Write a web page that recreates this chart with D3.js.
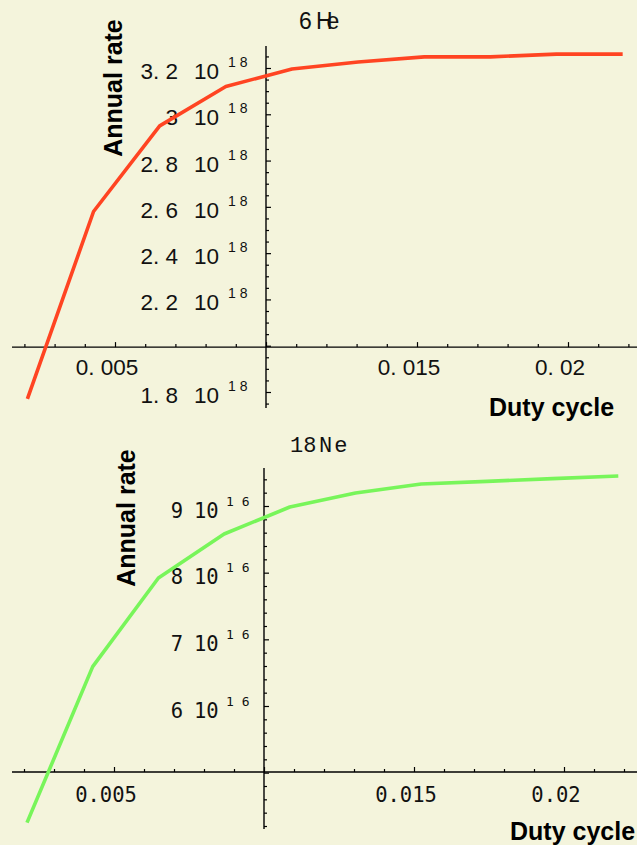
<!DOCTYPE html>
<html>
<head>
<meta charset="utf-8">
<script src="https://cdn.jsdelivr.net/npm/d3@7"></script>
<style>
  html, body { margin: 0; padding: 0; background: #f4f4dc; }
  svg { display: block; }
</style>
</head>
<body>
<script>
// Duty cycle sampled for both isotopes
const dutyCycle = [0.0021, 0.00429, 0.00648, 0.00867, 0.01086, 0.01305, 0.01524, 0.01743, 0.01962, 0.02181];
// Annual rate of 6He, in units of 10^18
const he6Rate = [1.77, 2.58, 2.95, 3.12, 3.196, 3.226, 3.248, 3.248, 3.26, 3.26];
// Annual rate of 18Ne, in units of 10^16
const ne18Rate = [4.25, 6.59, 7.92, 8.58, 8.985, 9.195, 9.33, 9.37, 9.41, 9.45];

// Tick values and labels
const xMajorTicks = [0.005, 0.01, 0.015, 0.02];
const xLabelTicks = [0.005, 0.015, 0.02];
const xLabelsTop = ["0. 005", "0. 015", "0. 02"];
const xLabelsBottom = ["0.005", "0.015", "0.02"];
const he6TickValues = [1.8, 2.2, 2.4, 2.6, 2.8, 3.0, 3.2];
const he6TickMantissa = ["1. 8", "2. 2", "2. 4", "2. 6", "2. 8", "3", "3. 2"];
const ne18TickValues = [6, 7, 8, 9];
const ne18TickMantissa = ["6", "7", "8", "9"];

const W = 637, H = 845;
const svg = d3.select("body").append("svg").attr("width", W).attr("height", H);
svg.append("rect").attr("width", W).attr("height", H).attr("fill", "#f4f4dc");

function range(a, b, step) {
  const out = [];
  const n = Math.round((b - a) / step);
  for (let i = 0; i <= n; i++) out.push(+(a + i * step).toFixed(6));
  return out;
}

function panel(opt) {
  const g = svg.append("g");
  const x = d3.scaleLinear().domain([0.005, 0.02]).range(opt.xRange);
  const y = d3.scaleLinear().domain(opt.yDomain).range(opt.yRange);
  const ax = x(0.01);            // vertical axis position
  const ay = y(opt.yCross);      // horizontal axis position

  // axis lines
  g.append("line").attr("x1", 12).attr("x2", W).attr("y1", ay).attr("y2", ay)
    .attr("stroke", "#000").attr("stroke-width", 1.4);
  g.append("line").attr("x1", ax).attr("x2", ax)
    .attr("y1", y(opt.yAxisExtent[1])).attr("y2", y(opt.yAxisExtent[0]))
    .attr("stroke", "#000").attr("stroke-width", 1.4);

  // x ticks: minor and major, pointing up
  const xMinor = range(0.002, 0.022, 0.001).filter(v => !xMajorTicks.some(m => Math.abs(m - v) < 1e-9));
  g.append("g").attr("transform", `translate(0,${ay})`)
    .call(d3.axisTop(x).tickValues(xMinor).tickSize(3).tickFormat(""))
    .call(s => s.select(".domain").remove());
  g.append("g").attr("transform", `translate(0,${ay})`)
    .call(d3.axisTop(x).tickValues(xMajorTicks).tickSize(5).tickFormat(""))
    .call(s => s.select(".domain").remove());

  // y ticks: pointing right
  const yMinor = range(opt.yMinor[0], opt.yMinor[1], opt.yMinor[2])
    .filter(v => !opt.yMajor.some(m => Math.abs(m - v) < 1e-9));
  g.append("g").attr("transform", `translate(${ax},0)`)
    .call(d3.axisRight(y).tickValues(yMinor).tickSize(3).tickFormat(""))
    .call(s => s.select(".domain").remove());
  g.append("g").attr("transform", `translate(${ax},0)`)
    .call(d3.axisRight(y).tickValues(opt.yMajor).tickSize(5).tickFormat(""))
    .call(s => s.select(".domain").remove());
  g.selectAll(".tick line").attr("stroke", "#000").attr("stroke-width", 1.2);

  // x tick labels
  g.selectAll("text.xl").data(xLabelTicks).enter().append("text")
    .attr("x", d => x(d) - 8).attr("y", ay + opt.xLabelDy)
    .attr("text-anchor", "middle")
    .attr("font-family", opt.tickFont).attr("font-size", opt.tickSize)
    .attr("fill", "#111")
    .text((d, i) => opt.xLabels[i]);

  // y tick labels: mantissa, "10" and exponent
  const yl = g.selectAll("g.yl").data(opt.yLabelValues).enter().append("g")
    .attr("transform", d => `translate(${ax},${y(d) + opt.yLabelDy})`)
    .attr("font-family", opt.tickFont).attr("fill", "#111");
  yl.append("text").attr("x", opt.mantEnd).attr("text-anchor", "end")
    .attr("font-size", opt.tickSize).text((d, i) => opt.yMantissa[i]);
  yl.append("text").attr("x", opt.tenStart)
    .attr("font-size", opt.tickSize).text("10");
  yl.append("text").attr("x", opt.expStart).attr("y", -12)
    .attr("font-size", opt.expSize).style("white-space", "pre")
    .text(opt.exponent);

  // curve
  const line = d3.line().x((d, i) => x(dutyCycle[i])).y(d => y(d));
  g.append("path").datum(opt.values).attr("d", line)
    .attr("fill", "none").attr("stroke", opt.color).attr("stroke-width", 3.6)
    .attr("stroke-linejoin", "round");

  // title
  opt.title(g);

  // axis labels
  g.append("text").attr("transform", `translate(${opt.yTitleX},${opt.yTitleY}) rotate(-90)`)
    .attr("text-anchor", "middle").attr("font-family", "Liberation Sans, Arial, sans-serif")
    .attr("font-weight", "bold").attr("font-size", 25).attr("fill", "#000")
    .text("Annual rate");
  g.append("text").attr("x", opt.xTitleX).attr("y", opt.xTitleY)
    .attr("font-family", "Liberation Sans, Arial, sans-serif")
    .attr("font-weight", "bold").attr("font-size", 25).attr("fill", "#000")
    .text("Duty cycle");
}

// 6He panel
panel({
  xRange: [115, 568],
  yDomain: [1.8, 3.2], yRange: [392, 68], yCross: 1.994,
  yAxisExtent: [1.731, 3.295],
  yMajor: [1.8, 2.0, 2.2, 2.4, 2.6, 2.8, 3.0, 3.2],
  yMinor: [1.75, 3.25, 0.05],
  yLabelValues: he6TickValues, yMantissa: he6TickMantissa, exponent: "1 8",
  tickFont: "Liberation Sans, Arial, sans-serif", tickSize: 22.5, expSize: 14,
  xLabels: xLabelsTop, xLabelDy: 28, yLabelDy: 11,
  mantEnd: -88, tenStart: -72, expStart: -38,
  values: he6Rate, color: "#ff4422",
  yTitleX: 122, yTitleY: 88, xTitleX: 489, xTitleY: 416,
  title: g => {
    const t = g.append("text").attr("y", 29).attr("font-family", "Liberation Sans, Arial, sans-serif")
      .attr("font-size", 23).attr("fill", "#111");
    t.append("tspan").attr("x", 299).text("6");
    t.append("tspan").attr("x", 316).attr("letter-spacing", -6).text("He");
  }
});

// 18Ne panel
panel({
  xRange: [114, 564],
  yDomain: [6, 9], yRange: [706, 506], yCross: 5.01,
  yAxisExtent: [4.155, 9.57],
  yMajor: [5, 6, 7, 8, 9],
  yMinor: [4.2, 9.4, 0.2],
  yLabelValues: ne18TickValues, yMantissa: ne18TickMantissa, exponent: "1 6",
  tickFont: "DejaVu Sans Mono, monospace", tickSize: 20.5, expSize: 13,
  xLabels: xLabelsBottom, xLabelDy: 30, yLabelDy: 11.5,
  mantEnd: -81, tenStart: -70, expStart: -38,
  values: ne18Rate, color: "#78f55a",
  yTitleX: 135, yTitleY: 518, xTitleX: 510, xTitleY: 840,
  title: g => {
    const t = g.append("text").attr("y", 452).attr("font-family", "Liberation Mono, Courier New, monospace")
      .attr("font-size", 22).attr("fill", "#111");
    t.append("tspan").attr("x", 290).text("18");
    t.append("tspan").attr("x", 319).attr("letter-spacing", 2).text("Ne");
  }
});
</script>
</body>
</html>
